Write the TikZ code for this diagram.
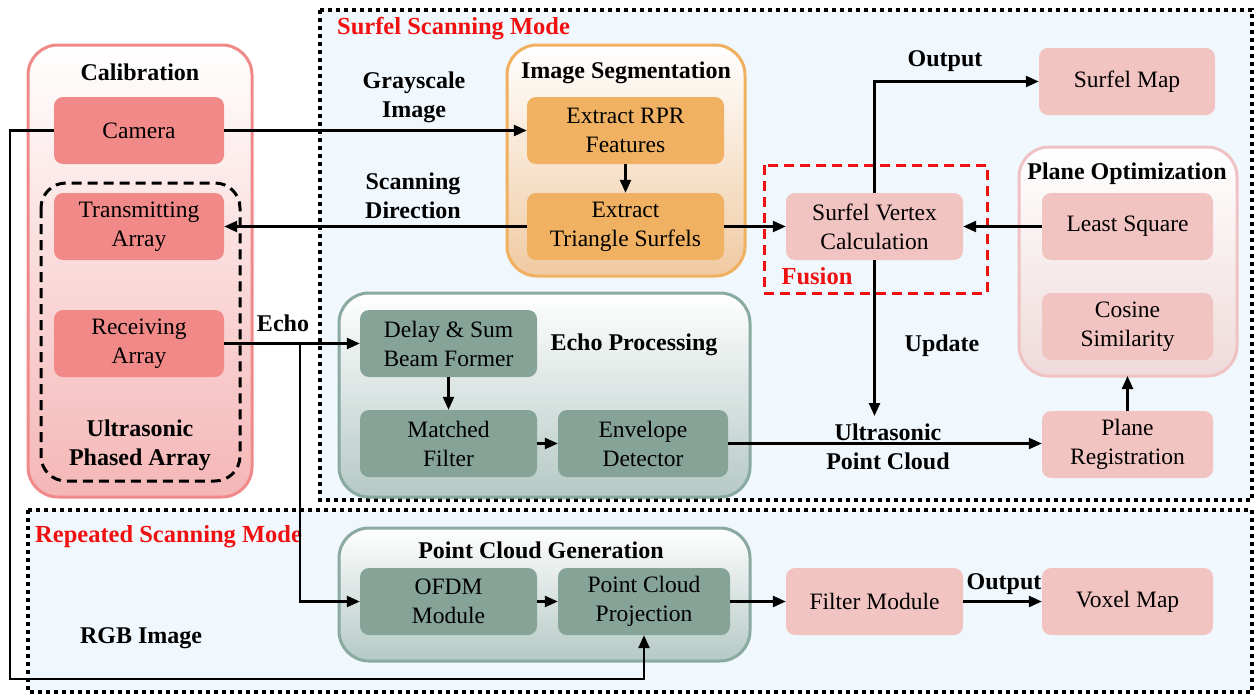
\documentclass[tikz,border=0pt]{standalone}
\usepackage{fontspec}
\setmainfont{Liberation Serif}
\usetikzlibrary{arrows.meta}
\definecolor{bgblue}{HTML}{F0F8FE}
\definecolor{calb}{HTML}{F08A8A}
\definecolor{calfill}{HTML}{F5B6B6}
\definecolor{camfill}{HTML}{F18989}
\definecolor{orb}{HTML}{F0B060}
\definecolor{orfill}{HTML}{F0B262}
\definecolor{orbot}{HTML}{F0CAA2}
\definecolor{pinkfill}{HTML}{F2C4C1}
\definecolor{pob}{HTML}{F0C2C2}
\definecolor{pobot}{HTML}{EFDADA}
\definecolor{teb}{HTML}{89A9A1}
\definecolor{tefill}{HTML}{86A398}
\definecolor{tebot}{HTML}{B5C9C5}
\definecolor{fred}{HTML}{F01010}
\tikzset{
  x=1pt,y=-1pt,
  txt/.style={font=\fontsize{23.5}{29}\selectfont,align=center,inner sep=0pt},
  lbl/.style={font=\fontsize{24}{29}\selectfont\bfseries,align=center,inner sep=0pt},
  redlbl/.style={lbl,font=\fontsize{24.5}{29}\selectfont\bfseries,text=fred},
  box/.style={txt,rounded corners=9pt,minimum height=67pt,draw=none},
  arr/.style={line width=2.4pt,-{Triangle[length=13pt,width=11pt]}},
  group/.style={line width=3pt,rounded corners=30pt},
  dotbox/.style={line width=4pt,dash pattern=on 4pt off 4pt},
}
\begin{document}
\begin{tikzpicture}
\useasboundingbox (0,0) rectangle (1258,696);
% mode regions
\draw[dotbox,fill=bgblue] (320,10) rectangle (1252,500);
\draw[dotbox,fill=bgblue] (28,510) rectangle (1252,692);
\node[redlbl,anchor=west] (ssm) at (337,29) {Surfel Scanning Mode};
\node[redlbl,anchor=west] (rsm) at (35,537) {Repeated Scanning Mode};

% calibration group
\path[group,draw=calb,top color=white,bottom color=calfill] (28,45) rectangle (252,497);
\node[lbl] (calt) at (140,72) {Calibration};
\node[box,fill=camfill,minimum width=170pt] (cam) at (139,130.5) {Camera};
\draw[line width=3pt,dash pattern=on 10pt off 6pt,rounded corners=25pt] (41,183) rectangle (240,481);
\node[box,fill=camfill,minimum width=170pt] (tx) at (139,226.5) {Transmitting\\Array};
\node[box,fill=camfill,minimum width=170pt] (rx) at (139,343.5) {Receiving\\Array};
\node[lbl] (upa) at (140,445) {Ultrasonic\\Phased Array};

% image segmentation
\path[group,draw=orb,top color=white,bottom color=orbot] (507,45) rectangle (745,276);
\node[lbl] (imgseg) at (626,73) {Image Segmentation};
\node[box,fill=orfill,minimum width=197pt] (rpr) at (625.5,130.5) {Extract RPR\\Features};
\node[box,fill=orfill,minimum width=197pt] (tri) at (625.5,226.5) {Extract\\Triangle Surfels};

% fusion
\draw[line width=3pt,draw=fred,dash pattern=on 10pt off 6pt] (764,165) rectangle (987,293);
\node[box,fill=pinkfill,minimum width=177pt] (svc) at (874.5,226.5) {Surfel Vertex\\Calculation};
\node[redlbl] (fus) at (817,276) {Fusion};
\node[box,fill=pinkfill,minimum width=176pt] (smap) at (1127,81.5) {Surfel Map};

% plane optimization
\path[group,draw=pob,top color=white,bottom color=pobot] (1019,147) rectangle (1237,376);
\node[lbl] (popt) at (1127,174) {Plane Optimization};
\node[box,fill=pinkfill,minimum width=171pt] (ls) at (1127.5,226.5) {Least Square};
\node[box,fill=pinkfill,minimum width=171pt] (cos) at (1127.5,326.5) {Cosine\\Similarity};
\node[box,fill=pinkfill,minimum width=171pt] (preg) at (1127.5,444.5) {Plane\\Registration};
\coordinate (poptb) at (1127.5,376);

% echo processing
\path[group,draw=teb,top color=white,bottom color=tebot] (339,293) rectangle (750,497);
\node[box,fill=tefill,minimum width=177pt] (dsb) at (448.5,343.5) {Delay \& Sum\\Beam Former};
\node[lbl] (ept) at (634,345) {Echo Processing};
\node[box,fill=tefill,minimum width=177pt] (mf) at (448.5,443.5) {Matched\\Filter};
\node[box,fill=tefill,minimum width=170pt] (env) at (643,443.5) {Envelope\\Detector};

% point cloud generation
\path[group,draw=teb,top color=white,bottom color=tebot] (339,528) rectangle (750,661);
\node[lbl] (pcg) at (541,550) {Point Cloud Generation};
\node[box,fill=tefill,minimum width=177pt] (ofdm) at (448.5,601.5) {OFDM\\Module};
\node[box,fill=tefill,minimum width=172pt] (pcp) at (644,601.5) {Point Cloud\\Projection};
\node[box,fill=pinkfill,minimum width=177pt] (filt) at (874.5,601.5) {Filter Module};
\node[box,fill=pinkfill,minimum width=171pt] (vox) at (1127.5,601.5) {Voxel Map};

% text labels
\node[lbl] (gray) at (414,97) {Grayscale\\Image};
\node[lbl] (scan) at (413,196) {Scanning\\Direction};
\node[lbl] (echo) at (283,323) {Echo};
\node[lbl] (out1) at (945,61) {Output};
\node[lbl] (upd) at (942,346) {Update};
\node[lbl] (upcl) at (888,447) {Ultrasonic\\Point Cloud};
\node[lbl] (rgb) at (141,638) {RGB Image};
\node[lbl] (out2) at (1004,584) {Output};

% connectors
\draw[arr] (cam.east) -- (rpr.west);
\draw[arr] (tri.west) -- (tx.east);
\draw[arr] (rpr) -- (tri);
\draw[arr] (tri.east) -- (svc.west);
\draw[arr] (ls.west) -- (svc.east);
\draw[arr] (svc.north) |- (smap.west);
\coordinate (updend) at (874.5,416);
\draw[arr] (svc.south) -- (updend);
\draw[arr] (env.east) -- (preg.west |- env.east);
\draw[arr] (preg.north) -- (poptb);
\draw[arr] (rx.east) -- (dsb.west);
\coordinate (branch) at (300,343.5);
\draw[arr] (branch) |- (ofdm.west);
\draw[arr] (dsb) -- (mf);
\draw[arr] (mf) -- (env);
\draw[arr] (ofdm) -- (pcp);
\draw[arr] (pcp) -- (filt);
\draw[arr] (filt) -- (vox);
\coordinate (rgbA) at (10,130.5);
\coordinate (rgbB) at (10,679);
\draw[arr] (cam.west) -- (rgbA) -- (rgbB) -| (pcp.south);
\end{tikzpicture}
\end{document}
